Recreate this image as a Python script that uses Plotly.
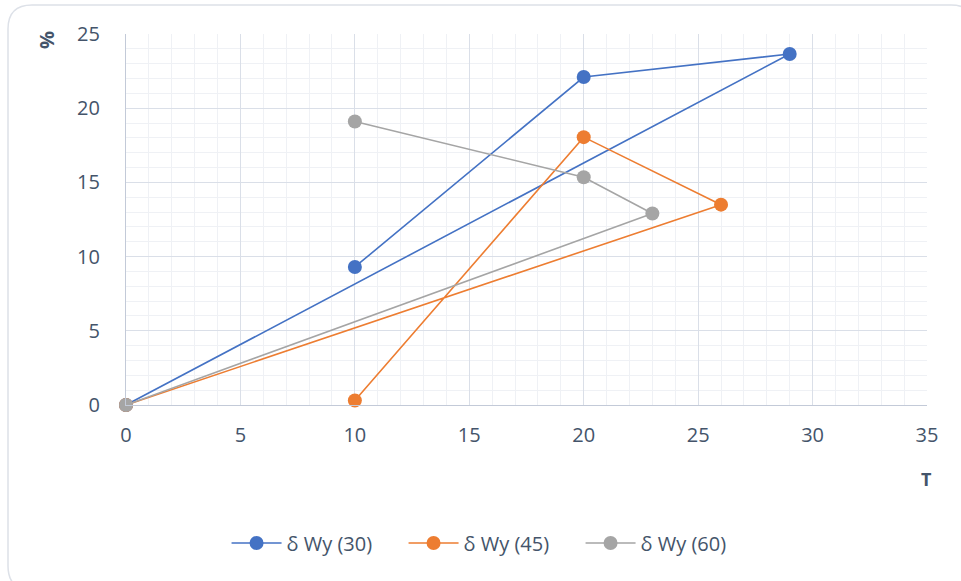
import plotly.graph_objects as go

x30 = [10, 20, 29, 0]
y30 = [9.3, 22.1, 23.65, 0]
x45 = [10, 20, 26, 0]
y45 = [0.3, 18.05, 13.5, 0]
x60 = [10, 20, 23, 0]
y60 = [19.1, 15.35, 12.9, 0]
names = ["δ Wy (30)", "δ Wy (45)", "δ Wy (60)"]
colors = ["#4472C4", "#ED7D31", "#A5A5A5"]

W, H = 961, 581
ml, mr, mt, mb = 126, 34, 34, 176
pw, ph = W - ml - mr, H - mt - mb

fig = go.Figure()
for xs, ys, n, c in zip([x30, x45, x60], [y30, y45, y60], names, colors):
    fig.add_trace(go.Scatter(x=xs, y=ys, name=n, mode="lines+markers",
                             line=dict(color=c, width=1.6),
                             marker=dict(color=c, size=14), cliponaxis=False))

font = dict(family="Open Sans, Liberation Sans, sans-serif", size=20, color="#44546A")

def px2paper_x(p):
    return (p - ml) / pw

def px2paper_y(p):
    return 1 - (p - mt) / ph

# rounded frame
x0, y0, x1, y1, r = 8, 5, 975, 590, 24
path = (f"M {px2paper_x(x0 + r)} {px2paper_y(y0)} "
        f"L {px2paper_x(x1 - r)} {px2paper_y(y0)} "
        f"Q {px2paper_x(x1)} {px2paper_y(y0)} {px2paper_x(x1)} {px2paper_y(y0 + r)} "
        f"L {px2paper_x(x1)} {px2paper_y(y1 - r)} "
        f"Q {px2paper_x(x1)} {px2paper_y(y1)} {px2paper_x(x1 - r)} {px2paper_y(y1)} "
        f"L {px2paper_x(x0 + r)} {px2paper_y(y1)} "
        f"Q {px2paper_x(x0)} {px2paper_y(y1)} {px2paper_x(x0)} {px2paper_y(y1 - r)} "
        f"L {px2paper_x(x0)} {px2paper_y(y0 + r)} "
        f"Q {px2paper_x(x0)} {px2paper_y(y0)} {px2paper_x(x0 + r)} {px2paper_y(y0)} Z")

fig.update_layout(
    width=W, height=H,
    margin=dict(l=ml, r=mr, t=mt, b=mb),
    paper_bgcolor="white", plot_bgcolor="white",
    font=font,
    showlegend=True,
    legend=dict(orientation="h", x=0.457, xanchor="center", y=-0.372, yanchor="middle",
                font=dict(size=20, color="#44546A"), itemwidth=50,
                entrywidth=112, traceorder="normal"),
    shapes=[dict(type="path", path=path, xref="paper", yref="paper",
                 line=dict(color="#dde1e8", width=1.5), layer="below")],
    annotations=[
        dict(text="<b>%</b>", x=px2paper_x(47), y=px2paper_y(40), xref="paper", yref="paper",
             xanchor="center", yanchor="middle",
             showarrow=False, textangle=-90, font=dict(size=20, color="#44546A")),
        dict(text="<b>T</b>", x=px2paper_x(926), y=px2paper_y(479), xref="paper", yref="paper",
             xanchor="center", yanchor="middle",
             showarrow=False, font=dict(size=18, color="#44546A")),
    ],
)
fig.update_xaxes(range=[0, 35], dtick=5, showgrid=True, gridcolor="#dadfe8", gridwidth=1.3,
                 minor=dict(dtick=1, showgrid=True, gridcolor="#eff1f5", gridwidth=1),
                 showline=True, linecolor="#c3cad8", linewidth=1.3, zeroline=False,
                 ticklabelstandoff=12, tickfont=font)
fig.update_yaxes(range=[0, 25], dtick=5, showgrid=True, gridcolor="#dadfe8", gridwidth=1.3,
                 minor=dict(dtick=1, showgrid=True, gridcolor="#eff1f5", gridwidth=1),
                 showline=True, linecolor="#c3cad8", linewidth=1.3, zeroline=False,
                 ticklabelstandoff=21, tickfont=font)

fig.write_html("out.html", config={"displayModeBar": False},
               post_script="document.body.style.margin='0';")
